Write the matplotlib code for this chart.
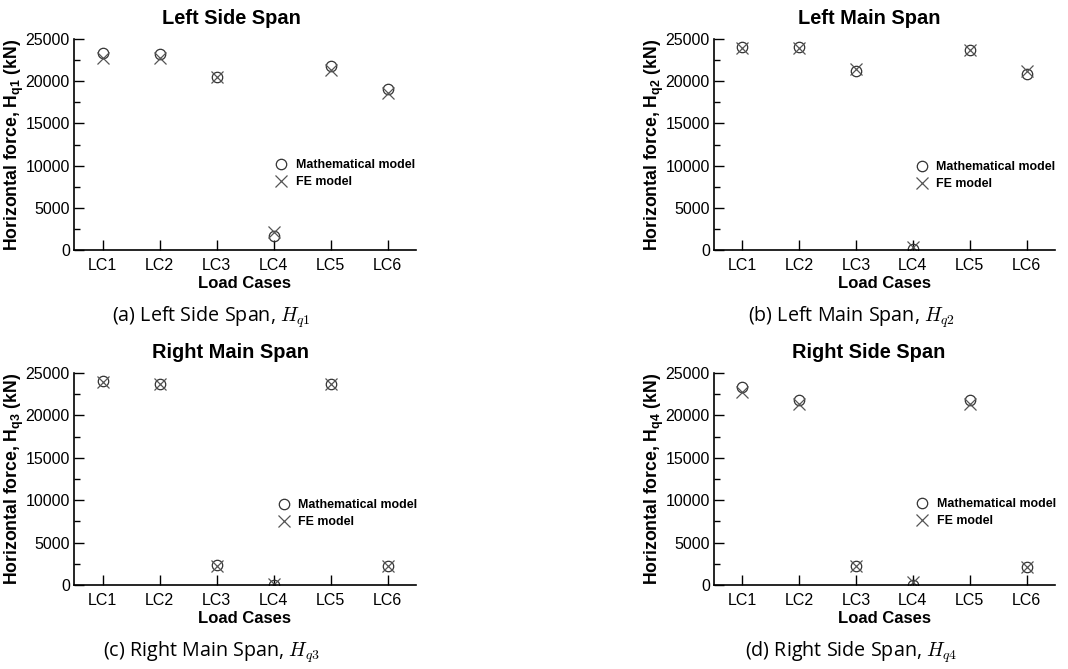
import numpy as np
import matplotlib
matplotlib.use("Agg")
import matplotlib.pyplot as plt
from matplotlib.ticker import MultipleLocator

cases = ["LC1", "LC2", "LC3", "LC4", "LC5", "LC6"]

# horizontal force (kN)
math_q1 = [23300, 23200, 20500, 1600, 21800, 19100]
fe_q1 = [22800, 22750, 20500, 2100, 21300, 18550]
math_q2 = [24050, 24000, 21150, 150, 23700, 20900]
fe_q2 = [23950, 23900, 21450, 350, 23700, 21250]
math_q3 = [24000, 23750, 2300, 50, 23650, 2250]
fe_q3 = [23950, 23700, 2250, 150, 23650, 2250]
math_q4 = [23300, 21850, 2200, 50, 21800, 2100]
fe_q4 = [22800, 21300, 2200, 350, 21300, 2100]

titles = ["Left Side Span", "Left Main Span", "Right Main Span", "Right Side Span"]
captions = ["(a) Left Side Span, $H_{q1}$", "(b) Left Main Span, $H_{q2}$",
            "(c) Right Main Span, $H_{q3}$", "(d) Right Side Span, $H_{q4}$"]
subs = ["q1", "q2", "q3", "q4"]

plt.rcParams['font.family'] = ['Liberation Sans', 'DejaVu Sans']
plt.rcParams['mathtext.fontset'] = 'custom'
plt.rcParams['mathtext.rm'] = 'Liberation Sans:bold'
plt.rcParams['mathtext.bf'] = 'Liberation Sans:bold'
plt.rcParams['mathtext.it'] = 'Liberation Sans:bold'

fig = plt.figure(figsize=(10.68, 6.69), dpi=100)

# axes rectangles in pixels (left, top, right, bottom)
boxes = [(74, 39, 416, 250), (714, 39, 1055, 250),
         (74, 373, 416, 585), (714, 373, 1055, 585)]
title_xy = [(231, 18), (869, 18), (231, 352), (869, 352)]
caption_xy = [(211, 317), (851, 317), (211, 652), (851, 652)]
legend_xy = [(0.585, 0.363), (0.587, 0.353), (0.591, 0.337), (0.589, 0.342)]

W, H = 1068, 669
series = [(math_q1, fe_q1), (math_q2, fe_q2), (math_q3, fe_q3), (math_q4, fe_q4)]
x = np.arange(1, len(cases) + 1)

for i in range(4):
    l, t, r, b = boxes[i]
    ax = fig.add_axes([l / W, 1 - b / H, (r - l) / W, (b - t) / H])
    m, f = series[i]
    ax.plot(x, m, 'o', ms=7.5, mfc='none', mec='#333333', mew=0.9, ls='none',
            label='Mathematical model')
    ax.plot(x, f, 'x', ms=8, mec='#555555', mew=0.9, ls='none',
            label='FE model')
    ax.set_xlim(0.5, 6.5)
    ax.set_ylim(0, 25000)
    ax.set_xticks(x)
    ax.set_xticklabels(cases)
    ax.yaxis.set_major_locator(MultipleLocator(5000))
    ax.yaxis.set_minor_locator(MultipleLocator(2500))
    for s in ['top', 'right']:
        ax.spines[s].set_visible(False)
    for s in ['left', 'bottom']:
        ax.spines[s].set_linewidth(1.2)
    ax.tick_params(axis='both', which='major', direction='in', length=7,
                   width=1.0, labelsize=11.5)
    ax.tick_params(axis='x', pad=6)
    ax.tick_params(axis='y', pad=3)
    ax.tick_params(axis='y', which='minor', direction='in', length=4.5, width=1.0)
    ax.set_xlabel('Load Cases', fontsize=12, fontweight='bold', labelpad=2)
    ax.set_ylabel('Horizontal force, H$_{\\mathbf{%s}}$ (kN)' % subs[i],
                  fontsize=12.7, fontweight='bold')
    ax.yaxis.set_label_coords(-0.141, 0.5)
    ax.legend(loc='center left', bbox_to_anchor=legend_xy[i], frameon=False,
              numpoints=1, handlelength=1.2, handletextpad=0.6, borderpad=0,
              borderaxespad=0, labelspacing=0.4,
              prop={'size': 8.9, 'weight': 'bold'})

    tx, ty = title_xy[i]
    fig.text(tx / W, 1 - ty / H, titles[i], fontsize=14.4, fontweight='bold',
             ha='center', va='center')
    cx, cy = caption_xy[i]
    fig.text(cx / W, 1 - cy / H, captions[i], fontsize=14.2, ha='center',
             va='center', family=['Open Sans', 'DejaVu Sans'],
             math_fontfamily='cm')

plt.savefig("out.png", dpi=100)
